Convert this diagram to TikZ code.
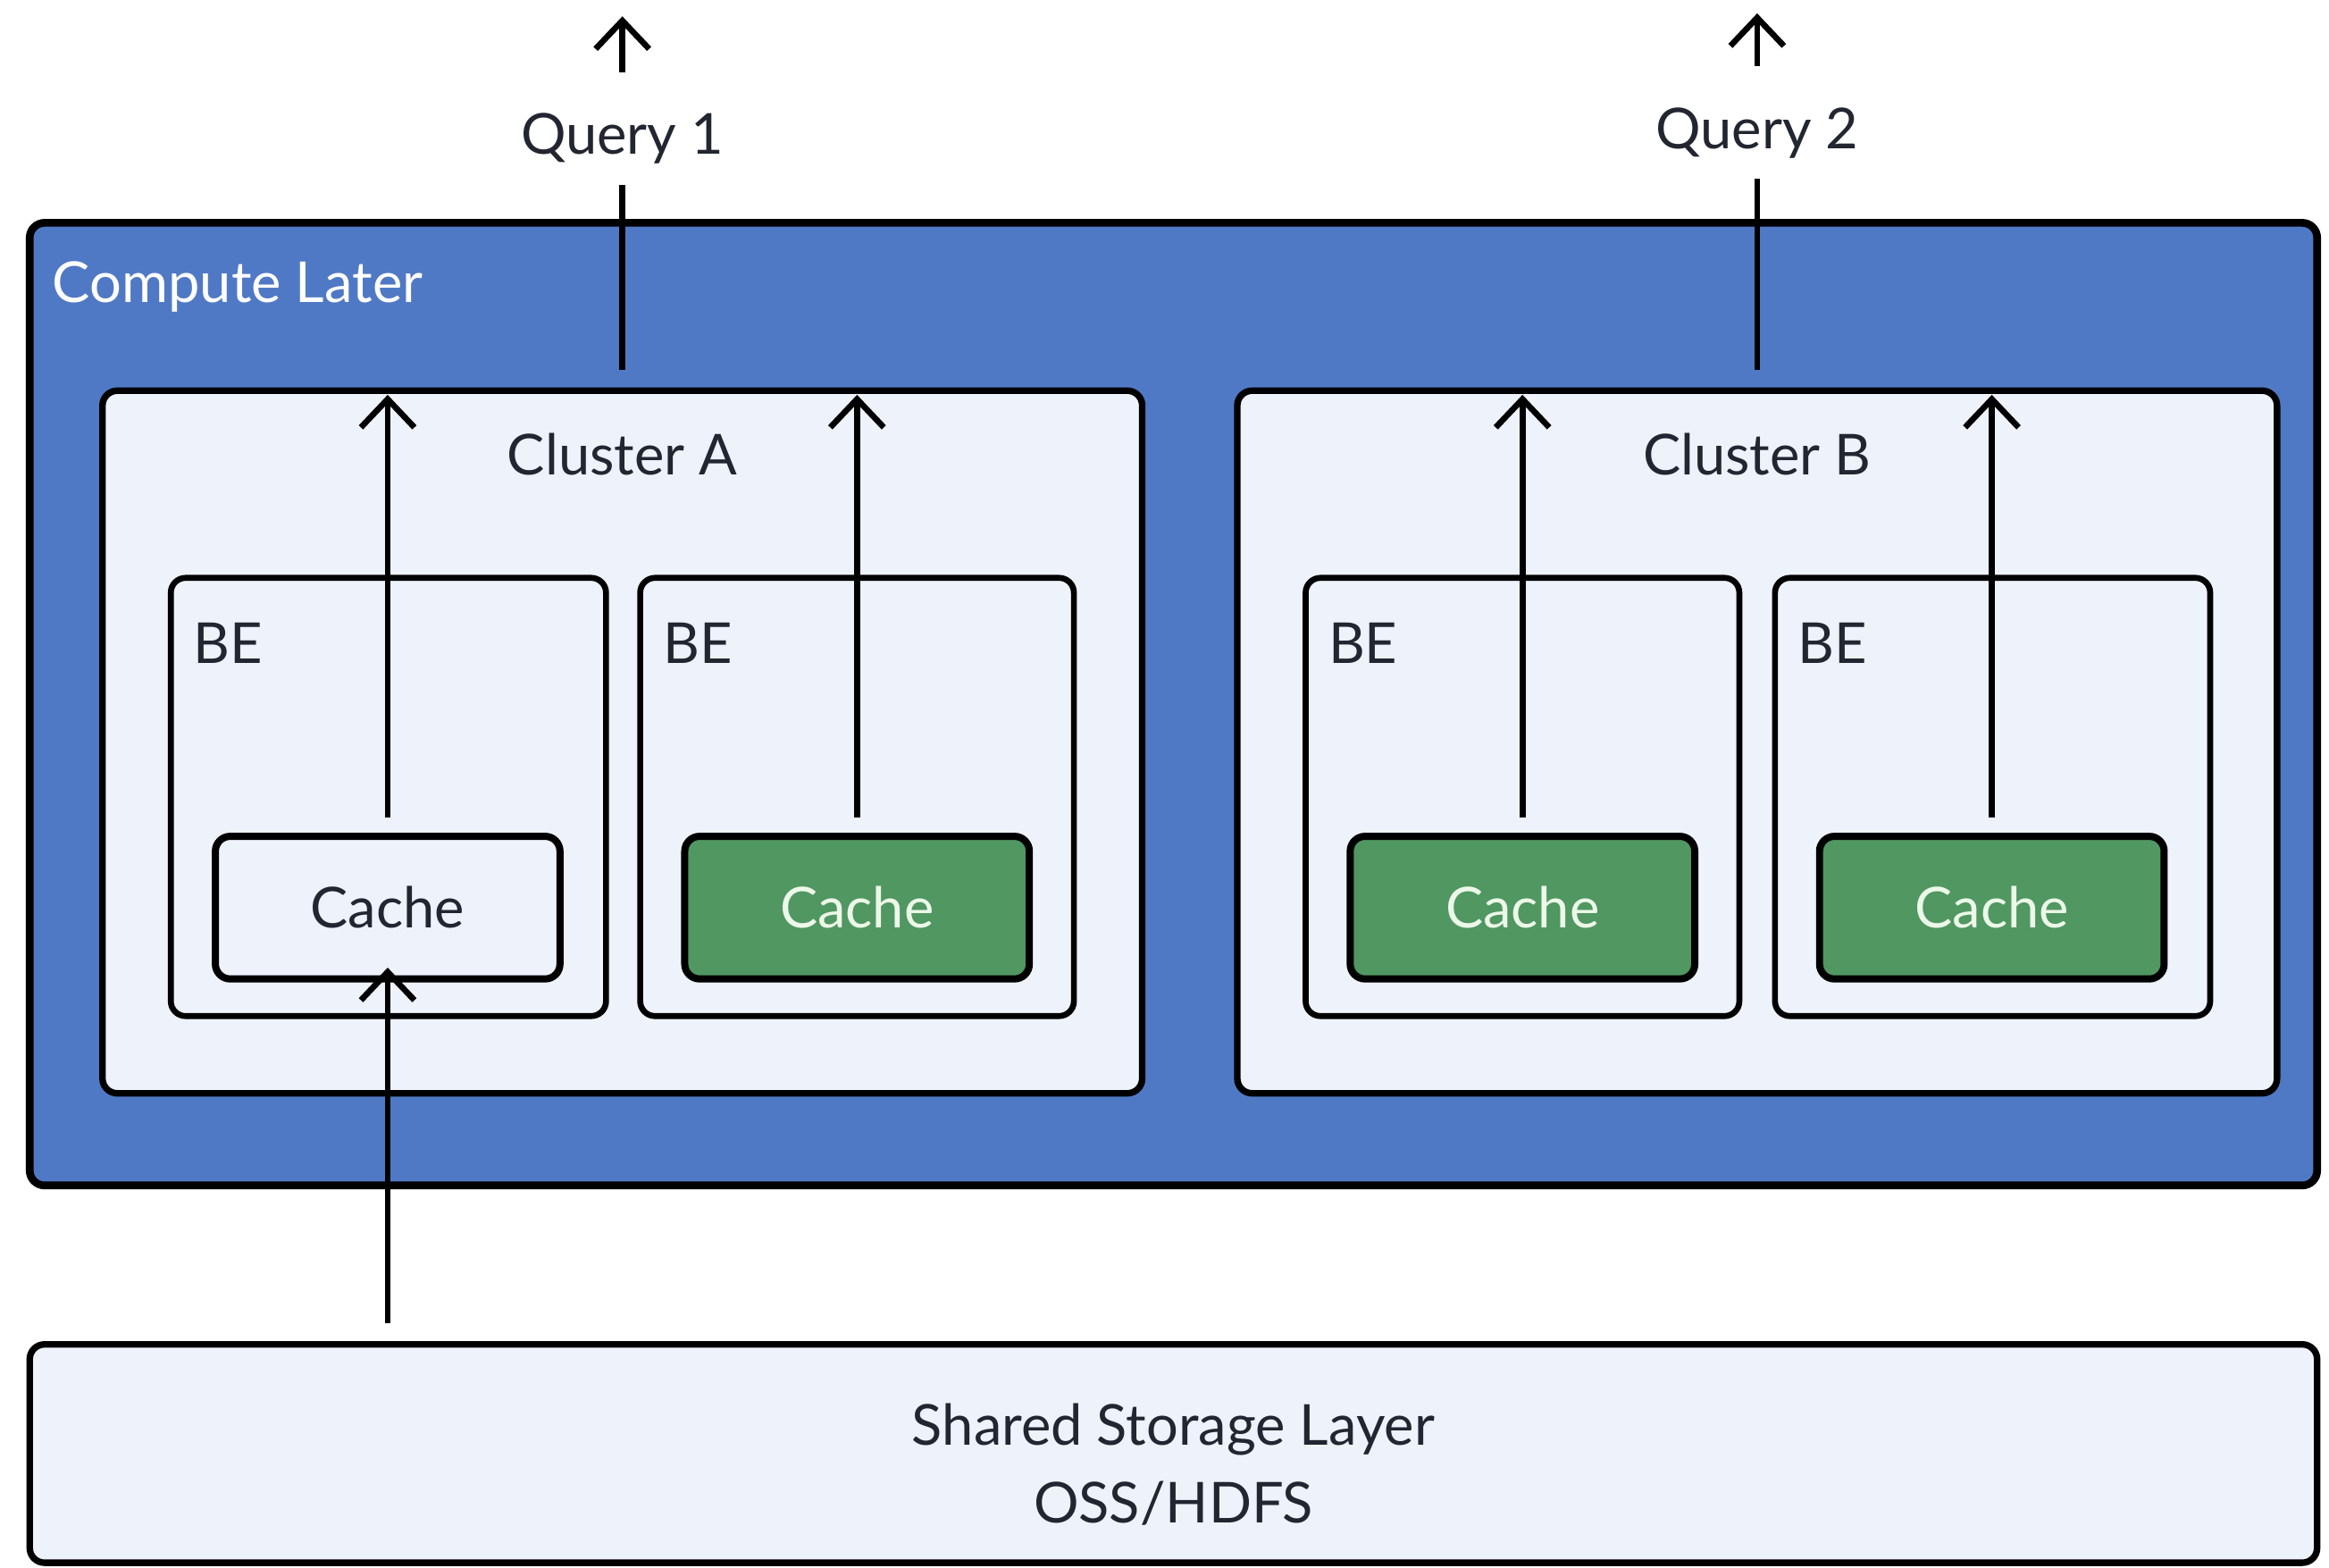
\documentclass[tikz,border=0pt]{standalone}
\usepackage{fontspec}
\setmainfont{Lato}
\usetikzlibrary{arrows.meta}
\definecolor{layerblue}{RGB}{80,121,197}
\definecolor{panel}{RGB}{238,242,251}
\definecolor{hot}{RGB}{80,151,98}
\definecolor{ink}{RGB}{34,38,48}
\definecolor{hottext}{RGB}{236,248,232}
\tikzset{
  box/.style={draw=black, line width=2.2pt, rounded corners=5pt, inner sep=0pt},
  layer/.style={box, fill=layerblue, line width=2.6pt},
  clusterbox/.style={box, fill=panel},
  bebox/.style={box, fill=panel, line width=2pt},
  coldcache/.style={box, fill=panel, line width=2.4pt, font=\fontsize{19}{22}\selectfont, text=ink},
  warmcache/.style={box, fill=hot, line width=2.4pt, font=\fontsize{19}{22}\selectfont, text=hottext},
  lbl/.style={font=\fontsize{19}{22}\selectfont, text=ink, inner sep=0pt},
  conn/.style={draw=black, line width=2pt},
  arr/.style={conn, -{Straight Barb[length=9.5pt,width=18pt,line width=2pt]}},
}
\begin{document}
\begin{tikzpicture}[x=0.5pt,y=-0.5pt]
\useasboundingbox[fill=white] (0,0) rectangle (1568,1055);

% compute layer
\node[layer, minimum width=770pt, minimum height=324pt] (compute) at (790,474) {};
\node[lbl, text=white, anchor=west] (computelbl) at (35,193) {Compute Later};

% clusters
\node[clusterbox, minimum width=350pt, minimum height=236.5pt] (cA) at (419,499.5) {};
\node[clusterbox, minimum width=350pt, minimum height=236.5pt] (cB) at (1183,499.5) {};
\node[lbl] (cAlbl) at (419,306) {Cluster A};
\node[lbl] (cBlbl) at (1183,306) {Cluster B};

% backends
\node[bebox, minimum width=146.5pt, minimum height=147.5pt] (beA1) at (261.5,536.5) {};
\node[bebox, minimum width=146pt, minimum height=147.5pt] (beA2) at (577,536.5) {};
\node[bebox, minimum width=146pt, minimum height=147.5pt] (beB1) at (1025,536.5) {};
\node[bebox, minimum width=146.5pt, minimum height=147.5pt] (beB2) at (1341.5,536.5) {};
\node[lbl, anchor=west] (beA1lbl) at (130,433) {BE};
\node[lbl, anchor=west] (beA2lbl) at (446,433) {BE};
\node[lbl, anchor=west] (beB1lbl) at (894,433) {BE};
\node[lbl, anchor=west] (beB2lbl) at (1210,433) {BE};

% caches
\node[coldcache, minimum width=116pt, minimum height=48pt] (kA1) at (261,611) {Cache};
\node[warmcache, minimum width=116pt, minimum height=48pt] (kA2) at (577,611) {Cache};
\node[warmcache, minimum width=116pt, minimum height=48pt] (kB1) at (1025,611) {Cache};
\node[warmcache, minimum width=116pt, minimum height=48pt] (kB2) at (1341,611) {Cache};

% shared storage
\node[box, fill=panel, minimum width=770pt, minimum height=73.5pt] (storage) at (790,978.5) {};
\node[lbl, align=center, font=\fontsize{19}{26}\selectfont] (storagelbl) at (790,986)
      {Shared Storage Layer\\OSS/HDFS};

% queries
\node[lbl, minimum height=29pt, text height=13pt, text depth=4pt] (q1) at (419,95) {Query 1};
\node[lbl, minimum height=29pt, text height=13pt, text depth=4pt] (q2) at (1183,91) {Query 2};
\coordinate (q1tip) at (419,11);
\coordinate (q2tip) at (1183,9);

% query paths
\draw[conn, shorten <=6pt] (cA.north) -- (q1.south);
\draw[arr, shorten <=8.5pt] (q1.north) -- (q1tip);
\draw[conn, shorten <=6pt] (cB.north) -- (q2.south);
\draw[arr, shorten <=8.5pt] (q2.north) -- (q2tip);

% cache reads up to the cluster
\foreach \k/\c in {kA1/cA, kA2/cA, kB1/cB, kB2/cB}
  \draw[arr, shorten <=5pt, shorten >=2.5pt] (\k.north) -- (\k.north |- \c.north);

% cold cache filled from storage
\draw[arr, shorten <=6pt, shorten >=-5pt] (storage.north -| kA1) -- (kA1.south);
\end{tikzpicture}
\end{document}
